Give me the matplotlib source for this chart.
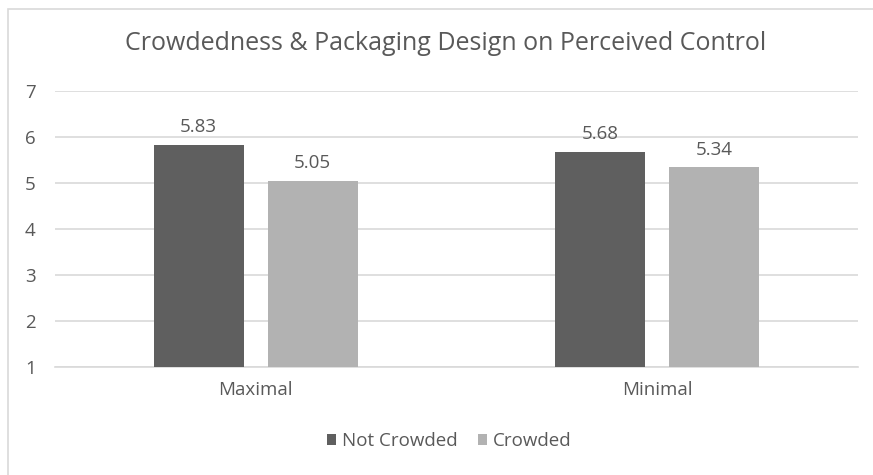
import matplotlib
matplotlib.use("Agg")
import matplotlib.pyplot as plt
from matplotlib.patches import Rectangle, Patch
import numpy as np

plt.rcParams['font.family'] = ['Open Sans', 'DejaVu Sans']

title = "Crowdedness & Packaging Design on Perceived Control"
categories = ["Maximal", "Minimal"]
series_names = ["Not Crowded", "Crowded"]
not_crowded = [5.83, 5.68]
crowded = [5.05, 5.34]
y_ticks = [1, 2, 3, 4, 5, 6, 7]

dark = "#5f5f5f"
light = "#b2b2b2"
text_col = "#595959"
grid_col = "#d9d9d9"
fs = 13.5

W, H = 873, 475
fig = plt.figure(figsize=(W / 100, H / 100), dpi=100)
fig.patch.set_facecolor("white")

# chart frame (runs past the right and bottom edges)
fig.patches.append(Rectangle((8 / W, -10 / H), 880 / W, (H - 9 + 10) / H,
                             transform=fig.transFigure, fill=False,
                             edgecolor=grid_col, linewidth=1.2))

left, right = 55, 858
top, bottom = 91, 367
ax = fig.add_axes([left / W, 1 - bottom / H, (right - left) / W, (bottom - top) / H])

x = np.arange(len(categories))
bw = 0.224
off = 0.142
ax.bar(x - off, np.array(not_crowded) - 1, bw, bottom=1, color=dark, zorder=3)
ax.bar(x + off, np.array(crowded) - 1, bw, bottom=1, color=light, zorder=3)

for xs, vals in ((x - off, not_crowded), (x + off, crowded)):
    for xi, v in zip(xs, vals):
        ax.annotate(f"{v:.2f}", (xi, v), xytext=(0, 6), textcoords="offset points",
                    ha="center", va="bottom", fontsize=fs, color=text_col)

ax.set_xlim(-0.5, len(categories) - 0.5)
ax.set_ylim(1, 7)
ax.set_yticks(y_ticks)
ax.set_xticks(x)
ax.set_xticklabels(categories)
ax.tick_params(axis="both", length=0, labelsize=fs, labelcolor=text_col)
ax.tick_params(axis="y", pad=14)
ax.tick_params(axis="x", pad=10)
ax.grid(axis="y", color=grid_col, linewidth=1.2, zorder=0)
for s in ax.spines.values():
    s.set_visible(False)
ax.spines["bottom"].set_visible(True)
ax.spines["bottom"].set_color(grid_col)
ax.spines["bottom"].set_linewidth(1.2)

fig.text(445.5 / W, 1 - 44 / H, title, ha="center", va="center", fontsize=18, color=text_col)

handles = [Patch(facecolor=dark, label=series_names[0]),
           Patch(facecolor=light, label=series_names[1])]
fig.legend(handles=handles, loc="center", bbox_to_anchor=(449 / W, 1 - 441 / H), ncol=2,
           frameon=False, fontsize=fs, labelcolor=text_col, handlelength=0.5,
           handleheight=0.5, handletextpad=0.3, columnspacing=1.1)

fig.savefig("out.png", dpi=100, facecolor="white")
